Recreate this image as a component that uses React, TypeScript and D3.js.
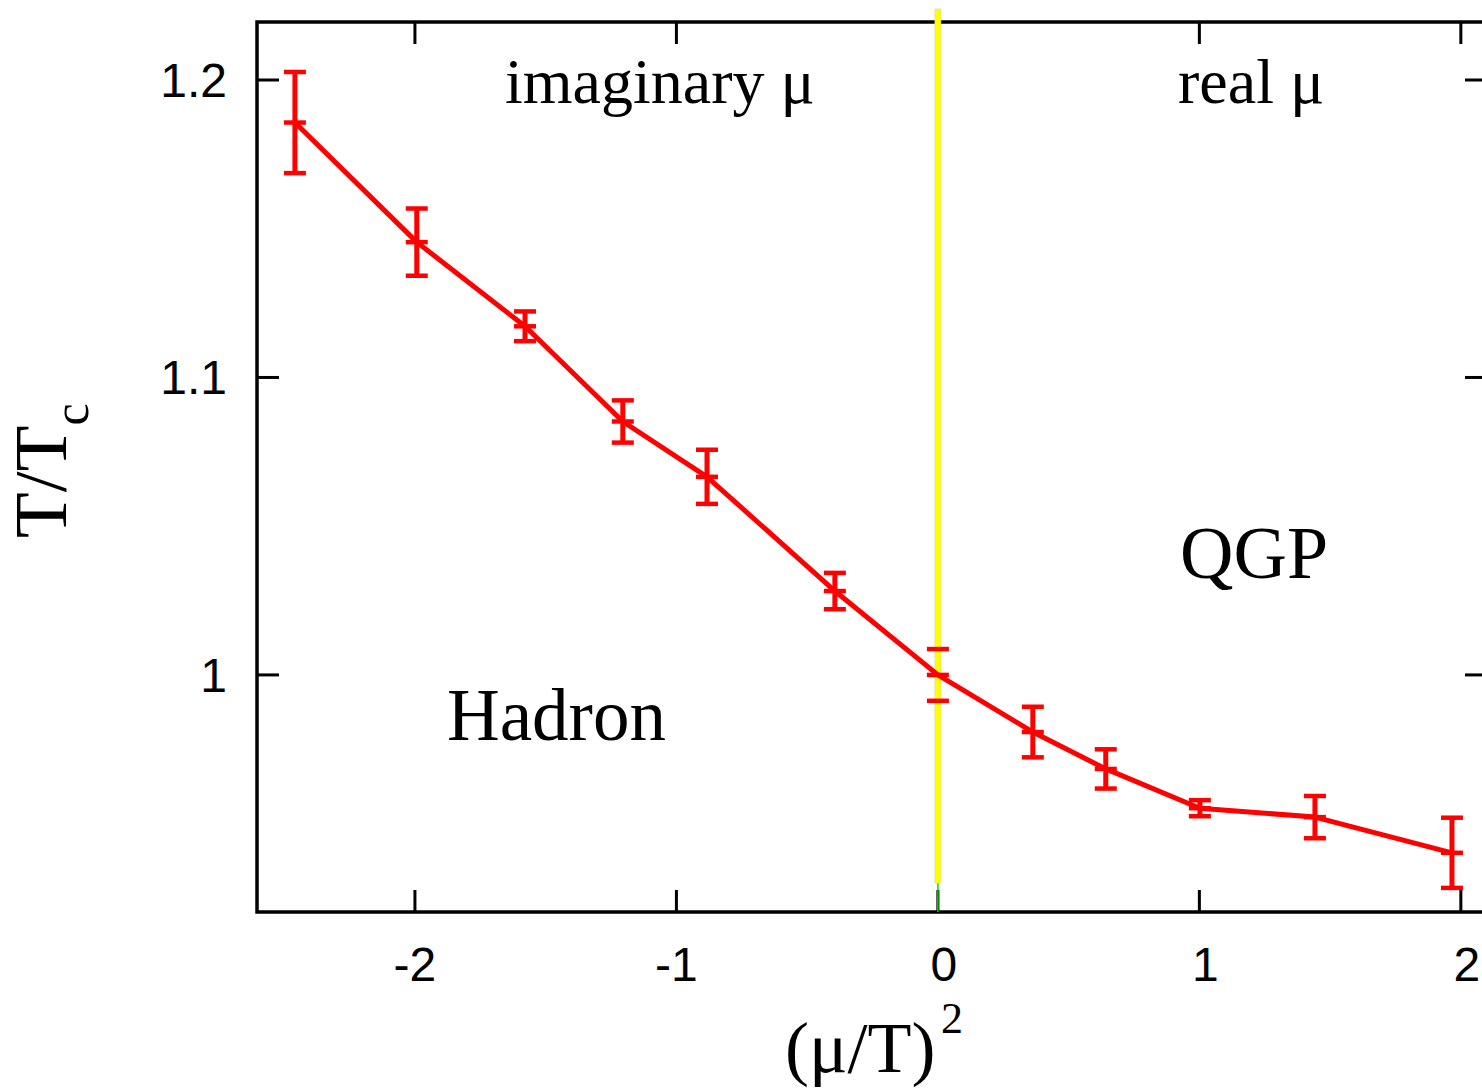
import React from "react";
import * as d3 from "d3";

const muSq = [-2.459, -1.993, -1.579, -1.205, -0.883, -0.394, 0.0, 0.363, 0.642, 1.002, 1.442, 1.966];
const tOverTc = [1.1857, 1.1455, 1.1172, 1.0852, 1.0666, 1.0282, 1.0, 0.9808, 0.9684, 0.9552, 0.9522, 0.9402];
const errs = [0.0170, 0.0113, 0.0050, 0.0071, 0.0091, 0.0061, 0.0087, 0.0085, 0.0066, 0.0027, 0.0071, 0.0118];
const xTicks = [-2, -1, 0, 1, 2];
const yTicks = [1.0, 1.1, 1.2];
const yTickLabels = ["1", "1.1", "1.2"];

const W = 1482;
const H = 1088;
const L = 257, R = 1487, T = 22, B = 912;

export default function App() {
  const x = d3.scaleLinear().domain([-2.604, 2.1]).range([L, R]);
  const y = d3.scaleLinear().domain([0.9203, 1.2195]).range([B, T]);
  const pts = muSq.map((m, i) => ({ x: m, y: tOverTc[i], e: errs[i] }));
  const line = d3.line<{ x: number; y: number }>().x(d => x(d.x)).y(d => y(d.y));
  const tickLen = 22;
  const capW = 22;
  const red = "#ff0000";
  const serif = "'Liberation Serif', 'Times New Roman', serif";
  const sans = "'Liberation Sans', Arial, sans-serif";
  return (
    <svg width={W} height={H} style={{ position: "absolute", left: 0, top: 0, background: "#fff" }}>
      <rect x={0} y={0} width={W} height={H} fill="#fff" />
      {/* ticks */}
      {xTicks.map(t => (
        <g key={"xt" + t}>
          <line x1={x(t)} x2={x(t)} y1={B} y2={B - tickLen} stroke="#000" strokeWidth={3} />
          <line x1={x(t)} x2={x(t)} y1={T} y2={T + tickLen} stroke="#000" strokeWidth={3} />
          <text x={x(t) + (t >= 0 ? 6 : 0)} y={981} textAnchor="middle" fontFamily={sans} fontSize={48} fill="#000">
            {String(t)}
          </text>
        </g>
      ))}
      {yTicks.map((t, i) => (
        <g key={"yt" + t}>
          <line x1={L} x2={L + tickLen} y1={y(t)} y2={y(t)} stroke="#000" strokeWidth={3} />
          <line x1={R} x2={R - tickLen} y1={y(t)} y2={y(t)} stroke="#000" strokeWidth={3} />
          <text x={227} y={y(t) + 17} textAnchor="end" fontFamily={sans} fontSize={48} fill="#000">
            {yTickLabels[i]}
          </text>
        </g>
      ))}
      {/* frame */}
      <rect x={L} y={T} width={R - L} height={B - T} fill="none" stroke="#000" strokeWidth={3.5} />
      {/* error bar stems */}
      {pts.map((p, i) => (
        <line key={"s" + i} x1={x(p.x)} x2={x(p.x)} y1={y(p.y + p.e)} y2={y(p.y - p.e)} stroke={red} strokeWidth={5} />
      ))}
      {/* vertical marker at mu=0 */}
      <line x1={x(0)} x2={x(0)} y1={883} y2={B} stroke="#00dd00" strokeWidth={1.5} />
      <rect x={x(0) - 3} y={9} width={6} height={874} fill="#ffff00" stroke="#d8d8a0" strokeWidth={0.6} />
      {/* data line */}
      <path d={line(pts) || ""} fill="none" stroke={red} strokeWidth={5} strokeLinejoin="round" />
      {pts.map((p, i) => {
        const cx = x(p.x);
        const y1 = y(p.y + p.e);
        const y2 = y(p.y - p.e);
        return (
          <g key={"e" + i} stroke={red}>
            <line x1={cx - capW / 2} x2={cx + capW / 2} y1={y1} y2={y1} strokeWidth={4.5} />
            <line x1={cx - capW / 2} x2={cx + capW / 2} y1={y2} y2={y2} strokeWidth={4.5} />
            <line x1={cx - capW / 2} x2={cx + capW / 2} y1={y(p.y)} y2={y(p.y)} strokeWidth={4.5} />
          </g>
        );
      })}
      {/* annotations */}
      <text x={505} y={103} fontFamily={serif} fontSize={64} fill="#000">imaginary μ</text>
      <text x={1178} y={103} fontFamily={serif} fontSize={64} fill="#000">real μ</text>
      <text x={447} y={740} fontFamily={serif} fontSize={73} fill="#000">Hadron</text>
      <text x={1180} y={578} fontFamily={serif} fontSize={74} fill="#000">QGP</text>
      {/* axis labels */}
      <text x={785} y={1072} fontFamily={serif} fontSize={72} fill="#000">
        (μ/T)
      </text>
      <text x={941} y={1033} fontFamily={serif} fontSize={44} fill="#000">2</text>
      <g transform="translate(66,538) rotate(-90)">
        <text x={0} y={0} fontFamily={serif} fontSize={75} fill="#000">
          T/T
          <tspan fontSize={50} dy={22}>c</tspan>
        </text>
      </g>
    </svg>
  );
}
